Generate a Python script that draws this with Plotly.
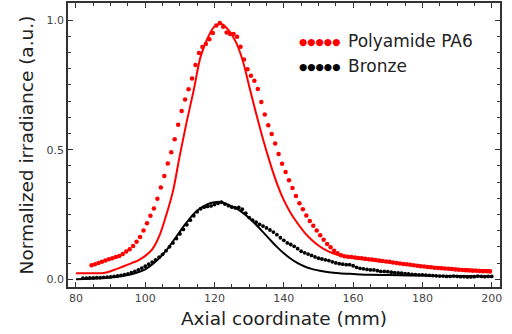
import numpy as np
import plotly.graph_objects as go

# Measured Polyamide PA6 (red dots), sampled every 1 mm from 84.5 mm
pa6_x_start = 84.5
pa6_meas = [
    0.054, 0.058, 0.063, 0.067, 0.072, 0.077, 0.081, 0.086, 0.090, 0.097,
    0.107, 0.116, 0.128, 0.145, 0.163, 0.188, 0.216, 0.245, 0.273, 0.311,
    0.354, 0.398, 0.447, 0.490, 0.540, 0.596, 0.649, 0.694, 0.733, 0.775,
    0.827, 0.873, 0.896, 0.908, 0.926, 0.950, 0.979, 0.989, 0.974, 0.952,
    0.946, 0.946, 0.936, 0.897, 0.848, 0.810, 0.785, 0.766, 0.734, 0.684,
    0.636, 0.594, 0.560, 0.524, 0.483, 0.446, 0.414, 0.382, 0.352, 0.321,
    0.293, 0.270, 0.246, 0.225, 0.206, 0.188, 0.170, 0.152, 0.136, 0.123,
    0.110, 0.100, 0.093, 0.089, 0.087, 0.086, 0.084, 0.082, 0.081, 0.079,
    0.077, 0.076, 0.074, 0.072, 0.070, 0.068, 0.067, 0.065, 0.063, 0.061,
    0.059, 0.058, 0.056, 0.054, 0.052, 0.050, 0.049, 0.047, 0.046, 0.044,
    0.043, 0.042, 0.041, 0.040, 0.039, 0.038, 0.037, 0.036, 0.035, 0.034,
    0.033, 0.033, 0.032, 0.031, 0.031, 0.030,
]

# Measured Bronze (black dots), sampled every 1 mm from 82 mm
bronze_x_start = 82.0
bronze_meas = [
    0.004, 0.004, 0.005, 0.005, 0.006, 0.006, 0.007, 0.008, 0.009, 0.011,
    0.013, 0.015, 0.018, 0.021, 0.025, 0.030, 0.036, 0.043, 0.050, 0.058,
    0.066, 0.075, 0.085, 0.096, 0.110, 0.125, 0.140, 0.157, 0.175, 0.192,
    0.210, 0.228, 0.245, 0.260, 0.272, 0.278, 0.281, 0.283, 0.288, 0.293,
    0.297, 0.290, 0.284, 0.278, 0.275, 0.277, 0.270, 0.255, 0.238, 0.228,
    0.220, 0.212, 0.205, 0.198, 0.190, 0.182, 0.172, 0.160, 0.150, 0.140,
    0.134, 0.127, 0.118, 0.108, 0.102, 0.097, 0.092, 0.086, 0.081, 0.078,
    0.075, 0.072, 0.067, 0.063, 0.060, 0.058, 0.056, 0.056, 0.052, 0.046,
    0.042, 0.040, 0.038, 0.036, 0.036, 0.033, 0.030, 0.030, 0.029, 0.027,
    0.025, 0.024, 0.023, 0.022, 0.021, 0.019, 0.018, 0.017, 0.017, 0.016,
    0.015, 0.014, 0.013, 0.012, 0.012, 0.011, 0.011, 0.012, 0.011, 0.010,
    0.010, 0.009, 0.009, 0.010, 0.012, 0.011, 0.010, 0.011, 0.011,
]

# Simulated curves (solid lines)
pa6_sim_x = [80, 84, 88, 90, 92, 94, 96, 98, 100, 102, 104, 106, 108, 110,
             112, 114, 116, 118, 120, 122, 124, 126, 128, 130, 132, 134, 136,
             138, 140, 142, 144, 146, 148, 150, 152, 154, 156, 158, 160, 165,
             170, 175, 180, 185, 190, 195, 200]
pa6_sim_y = [0.023, 0.023, 0.024, 0.031, 0.041, 0.051, 0.062, 0.073, 0.090,
             0.115, 0.165, 0.245, 0.340, 0.480, 0.610, 0.730, 0.860, 0.930,
             0.975, 0.985, 0.962, 0.920, 0.850, 0.745, 0.640, 0.540, 0.450,
             0.370, 0.305, 0.255, 0.215, 0.180, 0.152, 0.130, 0.113, 0.101,
             0.092, 0.086, 0.082, 0.073, 0.065, 0.058, 0.051, 0.045, 0.040,
             0.037, 0.035]

bronze_sim_x = [80, 84, 88, 92, 96, 100, 103, 106, 109, 112, 115, 118, 120,
                122, 124, 126, 128, 130, 132, 134, 136, 138, 140, 142, 144,
                146, 148, 150, 153, 156, 160, 165, 170, 180, 190, 200]
bronze_sim_y = [0.000, 0.002, 0.005, 0.010, 0.019, 0.038, 0.068, 0.110, 0.165,
                0.220, 0.265, 0.290, 0.297, 0.298, 0.287, 0.275, 0.258, 0.236,
                0.210, 0.182, 0.153, 0.125, 0.100, 0.079, 0.062, 0.049, 0.040,
                0.034, 0.027, 0.023, 0.020, 0.017, 0.016, 0.014, 0.012, 0.011]

series_names = ["Polyamide PA6", "Bronze"]
x_tick_vals = [80, 100, 120, 140, 160, 180, 200]
y_tick_vals = [0.0, 0.5, 1.0]

pa6_x = pa6_x_start + np.arange(len(pa6_meas))
bronze_x = bronze_x_start + np.arange(len(bronze_meas))

RED = "#ff0000"
BLACK = "#000000"

fig = go.Figure()
fig.add_trace(go.Scatter(x=pa6_sim_x, y=pa6_sim_y, mode="lines",
                         line=dict(color=RED, width=2, shape="spline", smoothing=1.0),
                         showlegend=False, hoverinfo="skip"))
fig.add_trace(go.Scatter(x=bronze_sim_x, y=bronze_sim_y, mode="lines",
                         line=dict(color=BLACK, width=2, shape="spline", smoothing=1.0),
                         showlegend=False, hoverinfo="skip"))
fig.add_trace(go.Scatter(x=pa6_x, y=pa6_meas, mode="markers", name=series_names[0],
                         marker=dict(color=RED, size=4.5), showlegend=False))
fig.add_trace(go.Scatter(x=bronze_x, y=bronze_meas, mode="markers", name=series_names[1],
                         marker=dict(color=BLACK, size=3.8), showlegend=False))

axis_common = dict(
    showline=True, linecolor="#333333", linewidth=1.5, mirror="ticks",
    ticks="inside", ticklen=5, tickwidth=1.2, tickcolor="#333333",
    showgrid=False, zeroline=False, automargin=False,
    tickfont=dict(family="DejaVu Sans", size=11, color="#444444"),
)

fig.update_xaxes(
    range=[77.7, 202.4], tickvals=x_tick_vals,
    minor=dict(ticks="inside", dtick=5, tick0=80, ticklen=3, tickcolor="#333333", tickwidth=1),
    title=dict(text="Axial coordinate (mm)", font=dict(family="DejaVu Sans", size=18.5, color="#222222"), standoff=8),
    **axis_common,
)
fig.update_yaxes(
    range=[-0.03, 1.066], tickvals=y_tick_vals, tickformat=".1f",
    minor=dict(ticks="inside", dtick=0.0625, tick0=0, ticklen=3, tickcolor="#333333", tickwidth=1),
    title=dict(text="Normalized irradiance (a.u.)", font=dict(family="DejaVu Sans", size=18.5, color="#222222"), standoff=8),
    **axis_common,
)

for i, (name, col) in enumerate(zip(series_names, [RED, BLACK])):
    yy = [0.865, 0.777][i]
    fig.add_annotation(xref="paper", yref="paper", x=0.530, y=yy, xanchor="left", yanchor="middle",
                       text=f"<span style='color:{col}'>●●●●●</span>", showarrow=False,
                       font=dict(family="DejaVu Sans", size=9.5, color=col))
    fig.add_annotation(xref="paper", yref="paper", x=0.643, y=yy, xanchor="left", yanchor="middle",
                       text=name, showarrow=False,
                       font=dict(family="DejaVu Sans", size=17, color="#222222"))

fig.update_layout(
    width=512, height=334,
    margin=dict(l=68, r=12, t=3, b=47),
    paper_bgcolor="white", plot_bgcolor="white",
    showlegend=False,
)

fig.write_html("out.html", config={"displayModeBar": False},
               post_script="document.body.style.margin='0';")
